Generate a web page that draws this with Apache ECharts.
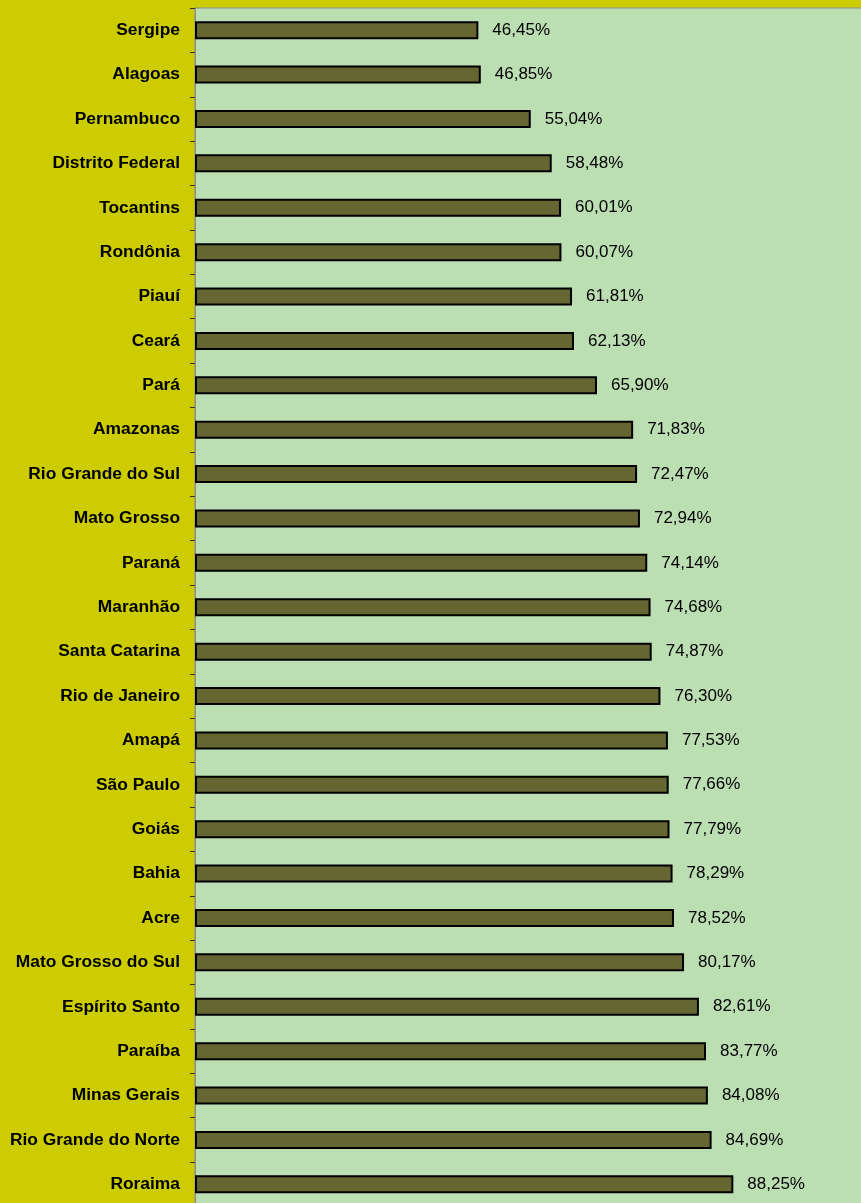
<!DOCTYPE html>
<html>
<head>
<meta charset="utf-8">
<script src="https://cdn.jsdelivr.net/npm/echarts@6/dist/echarts.min.js"></script>
<style>
  html, body { margin: 0; padding: 0; background: #CCCC00; overflow: hidden; }
  #chart { width: 861px; height: 1203px; }
</style>
</head>
<body>
<div id="chart"></div>
<script>
// States, top to bottom
const states = [
  'Sergipe', 'Alagoas', 'Pernambuco', 'Distrito Federal', 'Tocantins', 'Rondônia',
  'Piauí', 'Ceará', 'Pará', 'Amazonas', 'Rio Grande do Sul', 'Mato Grosso',
  'Paraná', 'Maranhão', 'Santa Catarina', 'Rio de Janeiro', 'Amapá', 'São Paulo',
  'Goiás', 'Bahia', 'Acre', 'Mato Grosso do Sul', 'Espírito Santo', 'Paraíba',
  'Minas Gerais', 'Rio Grande do Norte', 'Roraima'
];
// Percentage per state
const values = [
  46.45, 46.85, 55.04, 58.48, 60.01, 60.07,
  61.81, 62.13, 65.90, 71.83, 72.47, 72.94,
  74.14, 74.68, 74.87, 76.30, 77.53, 77.66,
  77.79, 78.29, 78.52, 80.17, 82.61, 83.77,
  84.08, 84.69, 88.25
];

const chart = echarts.init(document.getElementById('chart'), null, { renderer: 'canvas' });
const fmt = v => v.toFixed(2).replace('.', ',') + '%';

// The plot area runs past the right and bottom edges of the canvas
chart.setOption({
  backgroundColor: '#CCCC00',
  animation: false,
  grid: {
    left: 195, top: 8, width: 671, height: 1198.5,
    outerBoundsMode: 'none',
    containLabel: false,
    show: true,
    backgroundColor: '#BBDEB2',
    borderColor: '#8C8C8C',
    borderWidth: 1
  },
  xAxis: {
    type: 'value',
    min: 0, max: 110,
    show: false
  },
  yAxis: {
    type: 'category',
    data: states,
    inverse: true,
    axisLine: { show: true, lineStyle: { color: '#8C8C8C', width: 1 } },
    axisTick: { show: true, length: 5, inside: false, lineStyle: { color: '#333' } },
    axisLabel: {
      margin: 15,
      color: '#000',
      fontFamily: 'Liberation Sans, Arial, sans-serif',
      fontWeight: 'bold',
      fontSize: 17.4
    },
    splitLine: { show: false }
  },
  series: [{
    type: 'bar',
    data: values,
    barWidth: 18,
    itemStyle: { color: '#666633', borderColor: '#000', borderWidth: 2 },
    label: {
      show: true,
      position: 'right',
      distance: 14,
      color: '#000',
      fontFamily: 'Liberation Sans, Arial, sans-serif',
      fontSize: 17,
      formatter: p => fmt(p.value)
    }
  }]
});
</script>
</body>
</html>
